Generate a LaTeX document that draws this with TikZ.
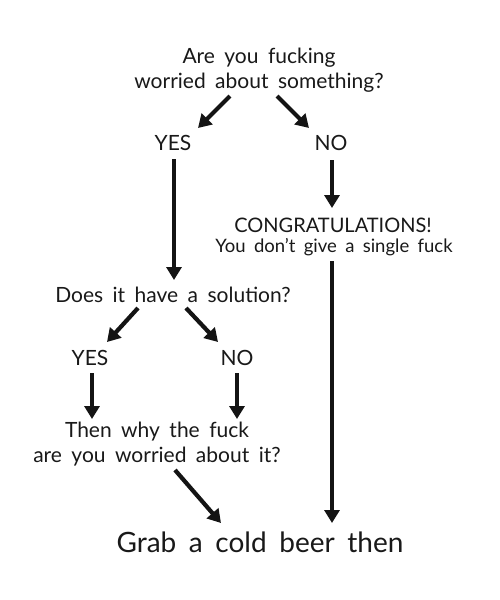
\documentclass[tikz,border=0pt]{standalone}
\usepackage{fontspec}
\setmainfont{Lato}
\usetikzlibrary{arrows.meta}
\newcommand\wsp{\spaceskip=0.45em\relax}
\begin{document}
\begin{tikzpicture}[x=1pt,y=-1pt,
  txt/.style={font=\fontsize{21}{25}\selectfont\wsp, align=center, inner sep=0pt, text=black!90},
  big/.style={font=\fontsize{28}{30}\selectfont\wsp, inner sep=0pt, text=black!90},
  arr/.style={line width=4.2pt, -{Triangle[width=15pt,length=13pt]}, black!92}]
\useasboundingbox[fill=white] (0,0) rectangle (500,600);
\node[txt] (q1) at (259,70) {Are you fucking\\worried about something?};
\node[txt] (y1) at (173,143) {YES};
\node[txt] (n1) at (331,143) {NO};
\node[txt,font=\fontsize{20}{24}\selectfont\wsp] (cg) at (333,225) {CONGRATULATIONS!};
\node[txt,font=\fontsize{18.5}{22}\selectfont\wsp] (dg) at (334,247) {You don't give a single fuck};
\node[txt] (q2) at (173,295) {Does it have a solution?};
\node[txt] (y2) at (90,358) {YES};
\node[txt] (n2) at (237,358) {NO};
\node[txt] (wh) at (157,444) {Then why the fuck\\are you worried about it?};
\node[big] (bb) at (260,542) {Grab a cold beer then};
\coordinate (a1s) at (230,96); \coordinate (a1e) at (198,128);
\coordinate (a2s) at (277,96); \coordinate (a2e) at (309,128);
\coordinate (a3s) at (174,159); \coordinate (a3e) at (174,280);
\coordinate (a4s) at (332,160); \coordinate (a4e) at (332,208);
\coordinate (a5s) at (332,261); \coordinate (a5e) at (332,523);
\coordinate (a6s) at (138,308); \coordinate (a6e) at (107,342);
\coordinate (a7s) at (186,308); \coordinate (a7e) at (218,342);
\coordinate (a8s) at (92,373); \coordinate (a8e) at (92,419);
\coordinate (a9s) at (237,373); \coordinate (a9e) at (237,419);
\coordinate (a10s) at (175,470); \coordinate (a10e) at (221,523);
\draw[arr] (a1s) -- (a1e);
\draw[arr] (a2s) -- (a2e);
\draw[arr] (a3s) -- (a3e);
\draw[arr] (a4s) -- (a4e);
\draw[arr] (a5s) -- (a5e);
\draw[arr] (a6s) -- (a6e);
\draw[arr] (a7s) -- (a7e);
\draw[arr] (a8s) -- (a8e);
\draw[arr] (a9s) -- (a9e);
\draw[arr] (a10s) -- (a10e);
\end{tikzpicture}
\end{document}
